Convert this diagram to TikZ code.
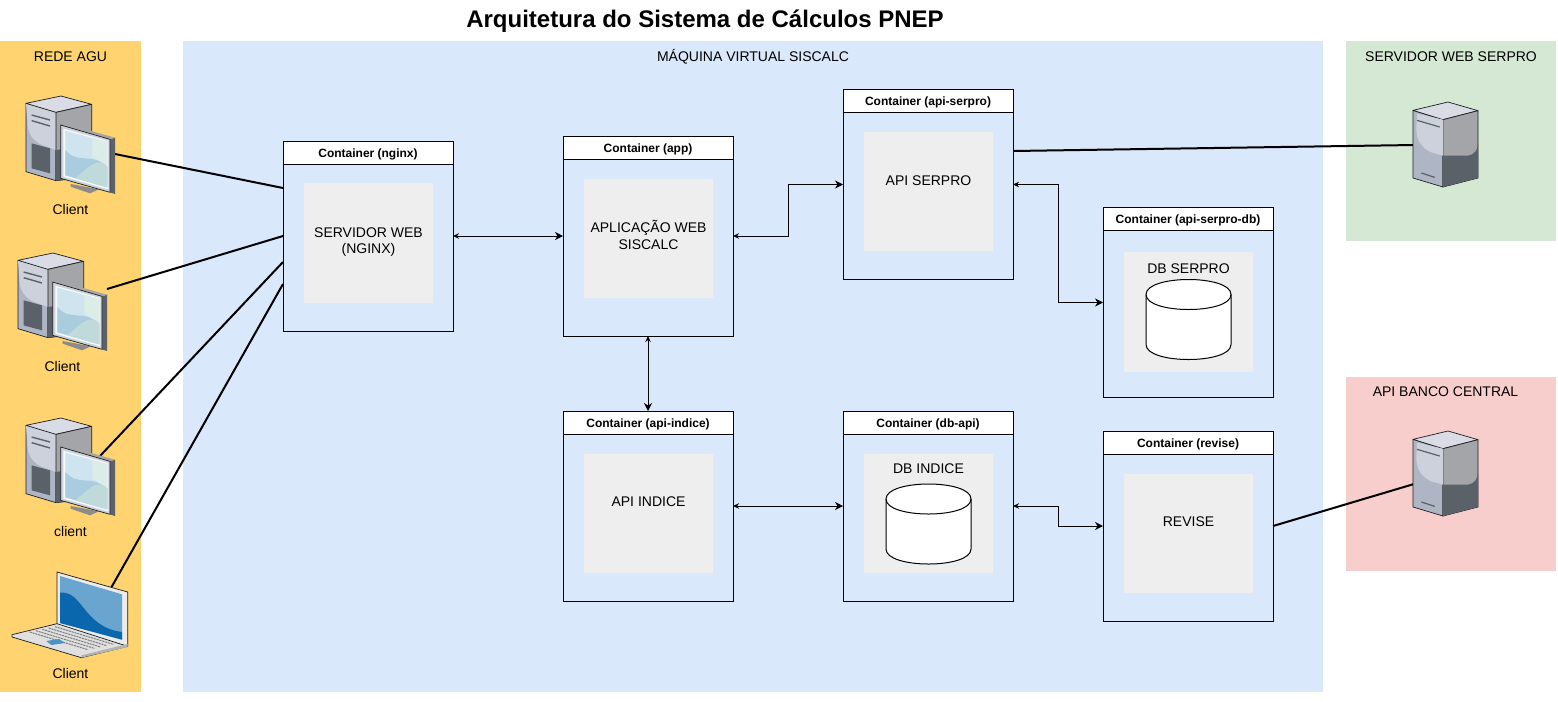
\documentclass[tikz,border=0pt]{standalone}
\usepackage{fontspec}
\setmainfont{Liberation Sans}
\usetikzlibrary{arrows.meta}
\definecolor{agucol}{HTML}{FFD470}
\definecolor{vmcol}{HTML}{DAE8FC}
\definecolor{serprocol}{HTML}{D5E8D4}
\definecolor{bancocol}{HTML}{F8CECC}
\definecolor{innercol}{HTML}{EEEEEE}
\definecolor{twrlight}{HTML}{CDD1DC}
\definecolor{twrmid}{HTML}{AEB5C5}
\definecolor{twrtop}{HTML}{D9DCE5}
\definecolor{twrside}{HTML}{A3A5A8}
\definecolor{twrdark}{HTML}{5A6169}
\definecolor{scrlight}{HTML}{CFE4EF}
\definecolor{scrwave}{HTML}{A9CCDF}
\definecolor{scrpane}{HTML}{DCECE6}
\definecolor{scrlow}{HTML}{BFDAD8}
\definecolor{lapblue}{HTML}{6AA5CF}
\definecolor{lapdeep}{HTML}{0A66AD}
\def\px{0.75pt}
\tikzset{
  paneltxt/.style={font=\fontsize{10.5}{12.6}\selectfont,inner sep=1pt},
  ctrbox/.style={draw=black,line width=\px,minimum width=170*\px,inner sep=0pt,outer sep=0pt},
  ctrhead/.style={draw=black,line width=\px,fill=white,minimum width=170*\px,minimum height=23*\px,
    inner sep=0pt,outer sep=0pt,text height=9pt,text depth=2pt,font=\fontsize{9}{11}\selectfont\bfseries},
  ctrinner/.style={fill=innercol,minimum width=129*\px,minimum height=119.5*\px,inner sep=0pt},
  ctrtxt/.style={font=\fontsize{10.5}{12.6}\selectfont,align=center,inner sep=1pt},
  flow/.style={{Stealth[open,fill=white,length=6*\px,width=5.5*\px]}-{Stealth[length=8*\px,width=8*\px,inset=2.5*\px]},
    line width=\px,black},
  uplink/.style={line width=2*\px,black},
  icoline/.style={draw=black!70!twrdark,line width=0.7*\px,line join=round},
  dbdrum/.pic={
    \path[draw=black,line width=\px,fill=white] (-42.5,-25) -- (-42.5,25) .. controls (-42.5,45) and (42.5,45) .. (42.5,25)
      -- (42.5,-25) .. controls (42.5,-45) and (-42.5,-45) .. (-42.5,-25) -- cycle;
    \draw[black,line width=\px] (-42.5,-25) .. controls (-42.5,-5) and (42.5,-5) .. (42.5,-25);
  },
  pc/.pic={
    \begin{scope}[x=0.25pt,y=-0.25pt,shift={(-78,-78)}]
      \path[icoline,fill=twrmid] (78,100)--(168,127)--(168,332)--(78,305)--cycle;
      \path[fill=twrlight] (78,100)--(168,127)--(168,240)--(120,222) .. controls (90,205) and (82,180) .. (82,150)--cycle;
      \path[icoline,fill=twrtop] (78,100)--(183,78)--(275,103)--(168,127)--cycle;
      \path[icoline,fill=twrside] (168,127)--(275,103)--(275,320)--(168,332)--cycle;
      \path[fill=twrdark] (168,240)--(275,225)--(275,320)--(168,332)--cycle;
      \draw[twrdark,line width=1.4*\px] (95,135)--(150,150) (95,152)--(150,168);
      \path[fill=twrdark] (95,220)--(150,235)--(150,310)--(95,295)--cycle;
      \path[fill=black!45] (212,342)--(297,358)--(270,370)--(212,350)--cycle;
      \path[fill=twrdark] (330,208)--(345,203)--(345,372)--(330,367)--cycle;
      \path[fill=black!35] (182,165)--(192,160)--(345,203)--(330,208)--cycle;
      \path[icoline,fill=twrlight] (182,165)--(330,208)--(330,367)--(182,325)--cycle;
      \path[fill=white!80!scrlight] (190,176)--(325,213)--(325,358)--(190,320)--cycle;
      \path[fill=scrlight] (196,182)--(322,216)--(322,352)--(196,316)--cycle;
      \path[fill=scrwave] (196,240) .. controls (235,285) and (270,245) .. (322,290)--(322,352)--(196,316)--cycle;
      \path[fill=scrpane] (277,204)--(322,216)--(322,290) .. controls (305,275) and (290,265) .. (277,262)--cycle;
      \path[fill=scrlow] (225,325) .. controls (260,300) and (290,255) .. (322,290)--(322,352)--cycle;
    \end{scope}
  },
  lap/.pic={
    \begin{scope}[x=0.25pt,y=-0.25pt,shift={(-37,-515)}]
      \path[icoline,fill=black!8] (172,515)--(384,575)--(384,738)--(172,680)--cycle;
      \path[fill=lapblue] (181,527)--(367,582)--(367,718)--(181,668)--cycle;
      \path[fill=lapdeep] (181,577) .. controls (250,570) and (250,680) .. (367,695)--(367,718)--(181,668)--cycle;
      \path[icoline,fill=black!12] (37,703)--(172,670)--(384,738)--(245,772)--(37,710)--cycle;
      \path[fill=black!30] (245,765)--(384,731)--(384,740)--(245,772)--cycle;
      \foreach \kr in {0,1,2,3,4}
        \draw[black!50,line width=\px,dash pattern=on 2.2*\px off 0.7*\px]
          (90+\kr*19,695-\kr*4)--(265+\kr*19,748-\kr*4);
      \path[fill=lapblue!70!lapdeep] (140,722)--(178,716)--(196,728)--(155,734)--cycle;
    \end{scope}
  },
  srv/.pic={
    \begin{scope}[x=0.25pt,y=-0.25pt,shift={(-70,-37)}]
      \path[icoline,fill=twrmid] (70,62)--(160,90)--(160,292)--(70,265)--cycle;
      \path[icoline,fill=twrtop] (70,62)--(175,37)--(265,63)--(160,90)--cycle;
      \path[icoline,fill=twrside] (160,90)--(265,63)--(265,265)--(160,292)--cycle;
      \path[fill=twrlight] (82,72)--(160,90)--(160,198)--(125,188) .. controls (95,175) and (80,150) .. (80,120)--cycle;
      \path[fill=twrdark] (160,198)--(235,198) .. controls (255,195) and (263,180) .. (265,165)--(265,265)--(160,292)--cycle;
      \draw[twrdark,line width=1.2*\px] (82,92)--(150,112) (95,250)--(135,263);
    \end{scope}
  },
}
\begin{document}
\begin{tikzpicture}[x=\px,y=-\px]
  \useasboundingbox (0,0) rectangle (1558,701);
  % panels
  \fill[agucol] (0,41) rectangle (141,692);
  \fill[vmcol] (183,41) rectangle (1323,692);
  \fill[serprocol] (1346,41) rectangle (1556,241);
  \fill[bancocol] (1346,377) rectangle (1556,571);
  \node[font=\fontsize{18}{22}\selectfont\bfseries,inner sep=0pt] (title) at (705,21) {Arquitetura do Sistema de Cálculos PNEP};
  \node[paneltxt] (agu) at (70.5,57) {REDE AGU};
  \node[paneltxt] (vm) at (753,57) {MÁQUINA VIRTUAL SISCALC};
  \node[paneltxt] (serpro) at (1451,57) {SERVIDOR WEB SERPRO};
  \node[paneltxt] (banco) at (1445.5,392) {API BANCO CENTRAL};
  % containers
  \foreach \nm/\x/\y/\h/\iny/\ttl in {nginx/283/141/190/243/nginx,app/563/136/200/238.5/app,
      apiserpro/843/89.5/190/191.5/api-serpro,serprodb/1103/207.5/190/312/api-serpro-db,
      apiindice/563/411/190/513.5/api-indice,dbapi/843/411/190/513.5/db-api,revise/1103/431/190/533.5/revise}{
    \node[ctrbox,minimum height=\h*\px] (\nm) at (\x+85,\y+\h/2) {};
    \node[ctrhead] (\nm-head) at (\x+85,\y+11.5) {Container (\ttl)};
    \node[ctrinner] (\nm-in) at (\x+85.5,\iny) {};
  }
  \node[ctrtxt] (nginx-txt) at (368.5,242) {SERVIDOR WEB\\(NGINX)};
  \node[ctrtxt] (app-txt) at (648.5,235) {APLICAÇÃO WEB\\SISCALC};
  \node[ctrtxt] (apiserpro-txt) at (928.5,181) {API SERPRO};
  \node[ctrtxt] (apiindice-txt) at (648.5,502) {API INDICE};
  \node[ctrtxt] (revise-txt) at (1188.5,522) {REVISE};
  \node[ctrtxt] (serprodb-txt) at (1188.5,268.5) {DB SERPRO};
  \node[ctrtxt] (dbapi-txt) at (928.5,469) {DB INDICE};
  \pic at (1188.5,319.5) {dbdrum};
  \pic at (928.5,524) {dbdrum};
  % links between containers
  \draw[flow] (nginx.east) -- (app.west);
  \draw[flow] (app.east) -- ++(55,0) |- (apiserpro.west);
  \draw[flow] (apiserpro.east) -- ++(45,0) |- (serprodb.west);
  \draw[flow] (app.south) -- (apiindice.north);
  \draw[flow] (apiindice.east) -- (dbapi.west);
  \draw[flow] (dbapi.east) -- ++(45,0) |- (revise.west);
  % free ends of the thick lines
  \coordinate (pc1-end) at (115,154);
  \coordinate (pc2-end) at (107,289);
  \coordinate (pc3-end) at (100,456);
  \coordinate (lap-end) at (111,588);
  \coordinate (ng1) at (283,188);
  \coordinate (ng2) at (283,236);
  \coordinate (ng3) at (283,262);
  \coordinate (ng4) at (283,284);
  \coordinate (srv1-end) at (1414,145);
  \coordinate (srv2-end) at (1414,484);
  \coordinate (api-out) at (1013,151);
  \coordinate (rev-out) at (1273,526);
  \draw[uplink] (pc1-end) -- (ng1);
  \draw[uplink] (pc2-end) -- (ng2);
  \draw[uplink] (pc3-end) -- (ng3);
  \draw[uplink] (lap-end) -- (ng4);
  \draw[uplink] (api-out) -- (srv1-end);
  \draw[uplink] (rev-out) -- (srv2-end);
  % icons
  \pic at (26,96) {pc};
  \pic at (18,253) {pc};
  \pic at (26,418) {pc};
  \pic at (12,572) {lap};
  \pic at (1413,102) {srv};
  \pic at (1413,431) {srv};
  \node[paneltxt] (pc1-txt) at (70.5,209) {Client};
  \node[paneltxt] (pc2-txt) at (62.5,366) {Client};
  \node[paneltxt] (pc3-txt) at (70.5,531) {client};
  \node[paneltxt] (lap-txt) at (70.5,673) {Client};
\end{tikzpicture}
\end{document}
